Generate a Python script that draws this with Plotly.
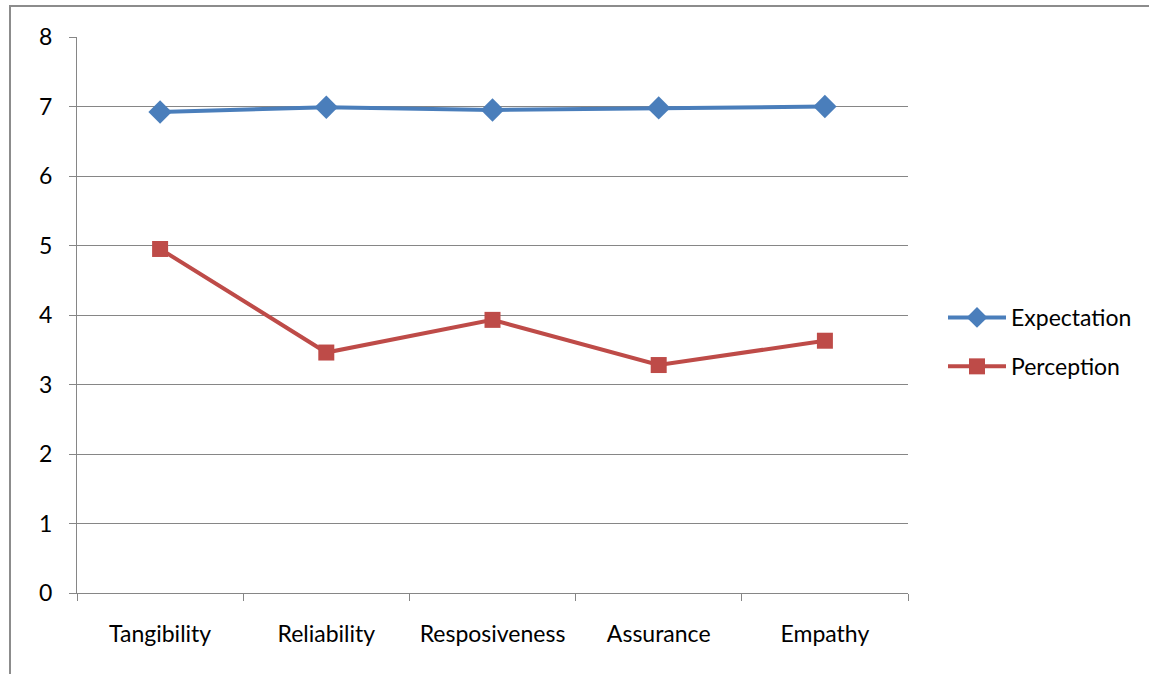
import plotly.graph_objects as go

# Service-quality dimensions and mean scores
dimensions = ["Tangibility", "Reliability", "Resposiveness", "Assurance", "Empathy"]
expectation = [6.92, 6.99, 6.95, 6.98, 7.00]
perception = [4.95, 3.46, 3.93, 3.28, 3.63]
y_ticks = [0, 1, 2, 3, 4, 5, 6, 7, 8]

W, H = 1149, 674
L, R, T, B = 77, 241, 37, 81
plot_w = W - L - R
plot_h = H - T - B

FONT = "Lato"
GRID = "#868686"

fig = go.Figure()
fig.add_trace(go.Scatter(
    x=dimensions, y=expectation, name="Expectation", mode="lines+markers",
    legendgroup="e",
    line=dict(color="#4A7EBB", width=4),
    marker=dict(symbol="diamond", size=18, color="#4A7EBB"),
))
fig.add_trace(go.Scatter(
    x=dimensions, y=perception, name="Perception", mode="lines+markers",
    legendgroup="p",
    line=dict(color="#BE4B48", width=4),
    marker=dict(symbol="square", size=16, color="#BE4B48"),
))

# outer chart frame (left/top edges visible)
fig.add_shape(type="rect", xref="paper", yref="paper",
              x0=(10 - L) / plot_w, x1=2, y0=-1, y1=(H - B - 6) / plot_h,
              line=dict(color="#8C8C8C", width=2), layer="below")

fig.update_layout(
    width=W, height=H,
    margin=dict(l=L, r=R, t=T, b=B),
    paper_bgcolor="white", plot_bgcolor="white",
    font=dict(family=FONT, size=23, color="black"),
    showlegend=True,
    legend=dict(x=(943 - L) / plot_w, y=(H - B - 342) / plot_h,
                xanchor="left", yanchor="middle",
                font=dict(family=FONT, size=23), itemwidth=58,
                tracegroupgap=16, bgcolor="rgba(0,0,0,0)"),
    xaxis=dict(type="category", tickson="boundaries", ticks="outside",
               ticklen=7, tickcolor=GRID, showline=True, linecolor=GRID,
               linewidth=1, showgrid=False, range=[-0.5, 4.5],
               ticklabelstandoff=20,
               tickfont=dict(family=FONT, size=23), fixedrange=True),
    yaxis=dict(range=[0, 8], tickvals=y_ticks, ticks="outside", ticklen=7,
               tickcolor=GRID, showline=True, linecolor=GRID, linewidth=1,
               showgrid=True, gridcolor=GRID, gridwidth=1, zeroline=False,
               ticklabelstandoff=12,
               tickfont=dict(family=FONT, size=23), fixedrange=True),
)

fig.write_html("out.html")
